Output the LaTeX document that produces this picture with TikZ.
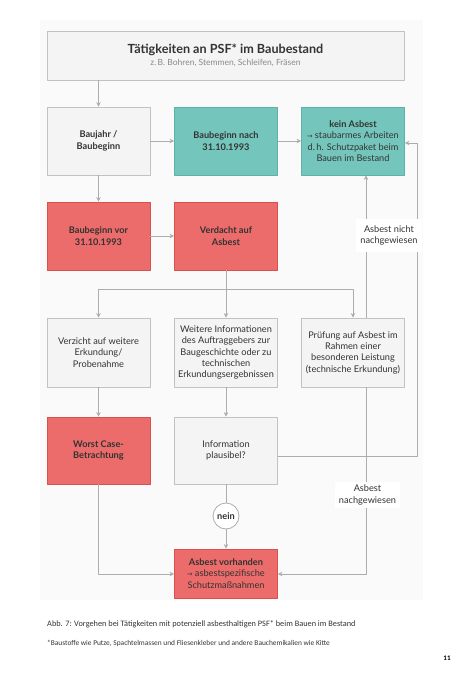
\documentclass[tikz,border=0pt]{standalone}
\usepackage{fontspec}
\setmainfont{Lato}
\newfontfamily\capfont{Carlito}
\newfontfamily\arrowfont{DejaVu Sans}
\usetikzlibrary{arrows.meta}
\definecolor{bgfill}{HTML}{FAFAFA}
\definecolor{boxfill}{HTML}{F4F4F4}
\definecolor{boxline}{HTML}{C2C2C2}
\definecolor{tealfill}{HTML}{74C6BC}
\definecolor{tealline}{HTML}{5DB3A8}
\definecolor{redfill}{HTML}{EC6B6B}
\definecolor{redline}{HTML}{D9514F}
\definecolor{linegray}{HTML}{ADADAD}
\definecolor{txtgray}{HTML}{333333}
\definecolor{subgray}{HTML}{8A8A8A}
\newcommand{\toarrow}{{\arrowfont\fontsize{6.5}{8}\selectfont →}}
\tikzset{
  box/.style={draw=boxline, fill=boxfill, line width=0.8pt, minimum width=103pt,
    minimum height=68pt, inner sep=1pt, align=center, text=txtgray,
    font=\fontsize{9.2}{11.3}\selectfont},
  boldbox/.style={font=\bfseries\fontsize{9.2}{11.3}\selectfont},
  tealbox/.style={box, draw=tealline, fill=tealfill},
  redbox/.style={box, draw=redline, fill=redfill},
  decision/.style={circle, draw=linegray, fill=white, line width=0.8pt, minimum size=26pt,
    inner sep=0pt, text=txtgray, font=\bfseries\fontsize{9.2}{11}\selectfont},
  lbl/.style={fill=white, align=center, inner sep=1pt, text=txtgray,
    font=\fontsize{9.2}{11.3}\selectfont},
  conn/.style={draw=linegray, line width=0.8pt},
}
\begin{document}
\begin{tikzpicture}[x=1pt, y=-1pt, line join=round, >={Stealth[length=4.5pt,width=4.5pt]}]
  \def\colA{98.5}\def\colB{226}\def\colC{353}
  \useasboundingbox (0,0) rectangle (469,673);
  \fill[bgfill] (40,20) rectangle (423,600);
  % boxes
  \node[box, minimum width=357pt, minimum height=49pt] (top) at (225.5,55.5)
    {{\bfseries\fontsize{12.6}{14}\selectfont Tätigkeiten an PSF* im Baubestand}\\[0.5pt]
     {\color{subgray}\fontsize{8.5}{10}\selectfont z.\,B. Bohren, Stemmen, Schleifen, Fräsen}};
  \node[box, boldbox] (baujahr) at (\colA,141) {Baujahr /\\Baubeginn};
  \node[tealbox, boldbox] (nach) at (\colB,141) {Baubeginn nach\\31.10.1993};
  \node[tealbox] (kein) at (\colC,141)
    {\textbf{kein Asbest}\\\toarrow\ staubarmes Arbeiten\\d.\,h. Schutzpaket beim\\Bauen im Bestand};
  \node[redbox, boldbox] (vor) at (\colA,236) {Baubeginn vor\\31.10.1993};
  \node[redbox, boldbox] (verdacht) at (\colB,236) {Verdacht auf\\Asbest};
  \node[box, minimum height=69pt] (verzicht) at (\colA,352.5) {Verzicht auf weitere\\Erkundung/\\Probenahme};
  \node[box, minimum height=69pt] (weitere) at (\colB,352.5)
    {Weitere Informationen\\des Auftraggebers zur\\Baugeschichte oder zu\\technischen\\Erkundungsergebnissen};
  \node[box, minimum height=69pt] (pruefung) at (\colC,352.5)
    {Prüfung auf Asbest im\\Rahmen einer\\besonderen Leistung\\(technische Erkundung)};
  \node[redbox, boldbox, minimum height=67pt] (worst) at (\colA,450.5) {Worst Case-\\Betrachtung};
  \node[box, minimum height=67pt] (info) at (\colB,450.5) {Information\\plausibel?};
  \node[decision] (nein) at (\colB,516) {nein};
  \node[redbox, minimum height=49pt] (vorhanden) at (\colB,573.5)
    {\textbf{Asbest vorhanden}\\\toarrow\ asbestspezifische\\Schutzmaßnahmen};
  % connectors
  \coordinate (split) at (\colB,289);
  \coordinate (rhigh) at (417,143);
  \coordinate (rmid) at (417,456);
  \coordinate (rlow) at (366,574);
  \coordinate (llow) at (\colA,574);
  \draw[conn,->] (top.south -| baujahr) -- (baujahr);
  \draw[conn,->] (baujahr) -- (nach);
  \draw[conn,->] (nach) -- (kein);
  \draw[conn,->] (baujahr) -- (vor);
  \draw[conn,->] (vor) -- (verdacht);
  \draw[conn] (verdacht) -- (split);
  \draw[conn,->] (split) -| (verzicht);
  \draw[conn,->] (split) -- (weitere);
  \draw[conn,->] (split) -| (pruefung);
  \draw[conn,->] (pruefung.north -| rlow) -- (kein.south -| rlow);
  \draw[conn,->] (info.east |- rmid) -- (rmid) -- (rhigh) -- (kein.east |- rhigh);
  \draw[conn,->] (verzicht) -- (worst);
  \draw[conn,->] (weitere) -- (info);
  \draw[conn] (info) -- (nein);
  \draw[conn,->] (nein) -- (vorhanden);
  \draw[conn,->] (worst) -- (llow) -- (vorhanden.west |- llow);
  \draw[conn,->] (pruefung.south -| rlow) -- (rlow) -- (vorhanden.east |- rlow);
  % labels on the lines
  \node[lbl, minimum width=66pt, minimum height=33pt] (nichtnach) at (389,235.5) {Asbest nicht\\nachgewiesen};
  \node[lbl, minimum width=65pt, minimum height=26pt] (nachgew) at (367.5,495) {Asbest\\nachgewiesen};
  % caption
  \node[anchor=base west, inner sep=0pt, text=txtgray, font=\capfont\fontsize{8.3}{10}\selectfont] (caption) at (47,626)
    {Abb. 7: Vorgehen bei Tätigkeiten mit potenziell asbesthaltigen PSF* beim Bauen im Bestand};
  \node[anchor=base west, inner sep=0pt, text=txtgray, font=\capfont\fontsize{7.4}{9}\selectfont] (footnote) at (47,645)
    {*Baustoffe wie Putze, Spachtelmassen und Fliesenkleber und andere Bauchemikalien wie Kitte};
  \node[anchor=base, inner sep=0pt, text=black, font=\capfont\bfseries\fontsize{7}{8}\selectfont] (page) at (447,660) {11};
\end{tikzpicture}
\end{document}
